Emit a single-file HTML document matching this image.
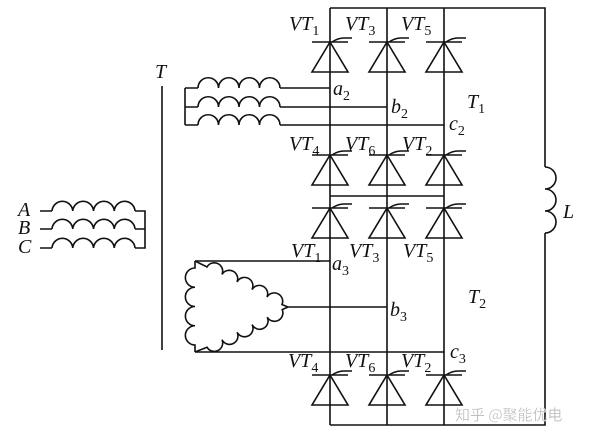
<!DOCTYPE html>
<html><head><meta charset="utf-8"><style>
html,body{margin:0;padding:0;background:#fff;}
svg{display:block}
.t{font-family:"Liberation Serif",serif;font-style:italic;font-size:20px;fill:#111}
.s{font-size:14px;font-style:normal}
</style></head><body>
<svg width="600" height="438" viewBox="0 0 600 438" xmlns="http://www.w3.org/2000/svg">
<defs>
<g id="thy" fill="none" stroke="#111" stroke-width="1.6">
<path d="M0,0 L-18,30 L18,30 Z"/>
<path d="M-18,0 L18,0"/>
<path d="M2,0 Q8,-4 14,-4 L22,-4"/>
</g>
</defs>
<g fill="none" stroke="#111" stroke-width="1.6">
<path d="M330,8 L545,8 L545,167"/>
<path d="M545,233 L545,425 L330,425"/>
<path d="M330,8 V425 M387,8 V425 M444,8 V425"/>
<path d="M330,196 H444"/>
<path d="M545,167 A11,11 0 0 1 545,189 A11,11 0 0 1 545,211 A11,11 0 0 1 545,233"/>
<path d="M280,88 H330 M280,107 H387 M280,125 H444"/>
<path d="M185,88 V125 M185,88 H198 M185,107 H198 M185,125 H198"/>
<path d="M198,88 A10.25,10.25 0 0 1 218.5,88 A10.25,10.25 0 0 1 239,88 A10.25,10.25 0 0 1 259.5,88 A10.25,10.25 0 0 1 280,88"/>
<path d="M198,107 A10.25,10.25 0 0 1 218.5,107 A10.25,10.25 0 0 1 239,107 A10.25,10.25 0 0 1 259.5,107 A10.25,10.25 0 0 1 280,107"/>
<path d="M198,125 A10.25,10.25 0 0 1 218.5,125 A10.25,10.25 0 0 1 239,125 A10.25,10.25 0 0 1 259.5,125 A10.25,10.25 0 0 1 280,125"/>
<path d="M40,211 H52 M40,229 H52 M40,248 H52 M135,211 H145 V248 H135 M135,229 H145"/>
<path d="M52,211 A10.4,10.4 0 0 1 72.75,211 A10.4,10.4 0 0 1 93.5,211 A10.4,10.4 0 0 1 114.25,211 A10.4,10.4 0 0 1 135,211"/>
<path d="M52,229 A10.4,10.4 0 0 1 72.75,229 A10.4,10.4 0 0 1 93.5,229 A10.4,10.4 0 0 1 114.25,229 A10.4,10.4 0 0 1 135,229"/>
<path d="M52,248 A10.4,10.4 0 0 1 72.75,248 A10.4,10.4 0 0 1 93.5,248 A10.4,10.4 0 0 1 114.25,248 A10.4,10.4 0 0 1 135,248"/>
<path d="M162,86 V350"/>
<path d="M195,261 H330 M288,307 H387 M195,352 H444"/>
<path d="M195,261 V268 A9.6,9.6 0 0 0 195,287.25 A9.6,9.6 0 0 0 195,306.5 A9.6,9.6 0 0 0 195,325.75 A9.6,9.6 0 0 0 195,345 V352"/>
<path d="M195,261 L207,267 A8.4,8.4 0 0 1 222,274.5 A8.4,8.4 0 0 1 237,282 A8.4,8.4 0 0 1 252,289.6 A8.4,8.4 0 0 1 267,297.1 A8.4,8.4 0 0 1 282,304.6 L288,307"/>
<path d="M288,307 L282.2,309.6 A8.4,8.4 0 0 1 267.2,317.1 A8.4,8.4 0 0 1 252.1,324.6 A8.4,8.4 0 0 1 237.1,332.2 A8.4,8.4 0 0 1 222,339.7 A8.4,8.4 0 0 1 207,347.2 L195,352"/>
</g>
<use href="#thy" x="330" y="42"/><use href="#thy" x="387" y="42"/><use href="#thy" x="444" y="42"/>
<use href="#thy" x="330" y="155"/><use href="#thy" x="387" y="155"/><use href="#thy" x="444" y="155"/>
<use href="#thy" x="330" y="208"/><use href="#thy" x="387" y="208"/><use href="#thy" x="444" y="208"/>
<use href="#thy" x="330" y="375"/><use href="#thy" x="387" y="375"/><use href="#thy" x="444" y="375"/>
<g class="t">
<text x="289" y="30">VT<tspan class="s" dy="5">1</tspan></text>
<text x="345" y="30">VT<tspan class="s" dy="5">3</tspan></text>
<text x="401" y="30">VT<tspan class="s" dy="5">5</tspan></text>
<text x="289" y="150">VT<tspan class="s" dy="5">4</tspan></text>
<text x="345" y="150">VT<tspan class="s" dy="5">6</tspan></text>
<text x="402" y="150">VT<tspan class="s" dy="5">2</tspan></text>
<text x="291" y="257">VT<tspan class="s" dy="5">1</tspan></text>
<text x="349" y="257">VT<tspan class="s" dy="5">3</tspan></text>
<text x="403" y="257">VT<tspan class="s" dy="5">5</tspan></text>
<text x="288" y="367">VT<tspan class="s" dy="5">4</tspan></text>
<text x="345" y="367">VT<tspan class="s" dy="5">6</tspan></text>
<text x="401" y="367">VT<tspan class="s" dy="5">2</tspan></text>
<text x="333" y="95">a<tspan class="s" dy="5">2</tspan></text>
<text x="391" y="113">b<tspan class="s" dy="5">2</tspan></text>
<text x="449" y="130">c<tspan class="s" dy="5">2</tspan></text>
<text x="467" y="108">T<tspan class="s" dy="5">1</tspan></text>
<text x="332" y="270">a<tspan class="s" dy="5">3</tspan></text>
<text x="390" y="316">b<tspan class="s" dy="5">3</tspan></text>
<text x="450" y="358">c<tspan class="s" dy="5">3</tspan></text>
<text x="468" y="303">T<tspan class="s" dy="5">2</tspan></text>
<text x="563" y="218">L</text>
<text x="155" y="78">T</text>
<text x="18" y="216">A</text>
<text x="18" y="234">B</text>
<text x="18" y="253">C</text>
</g>
<text x="455" y="420" font-family="'Noto Sans CJK SC',sans-serif" font-size="15" fill="#b4b4b4" stroke="#fff" stroke-width="0.3">知乎 @聚能优电</text>
</svg>
</body></html>
